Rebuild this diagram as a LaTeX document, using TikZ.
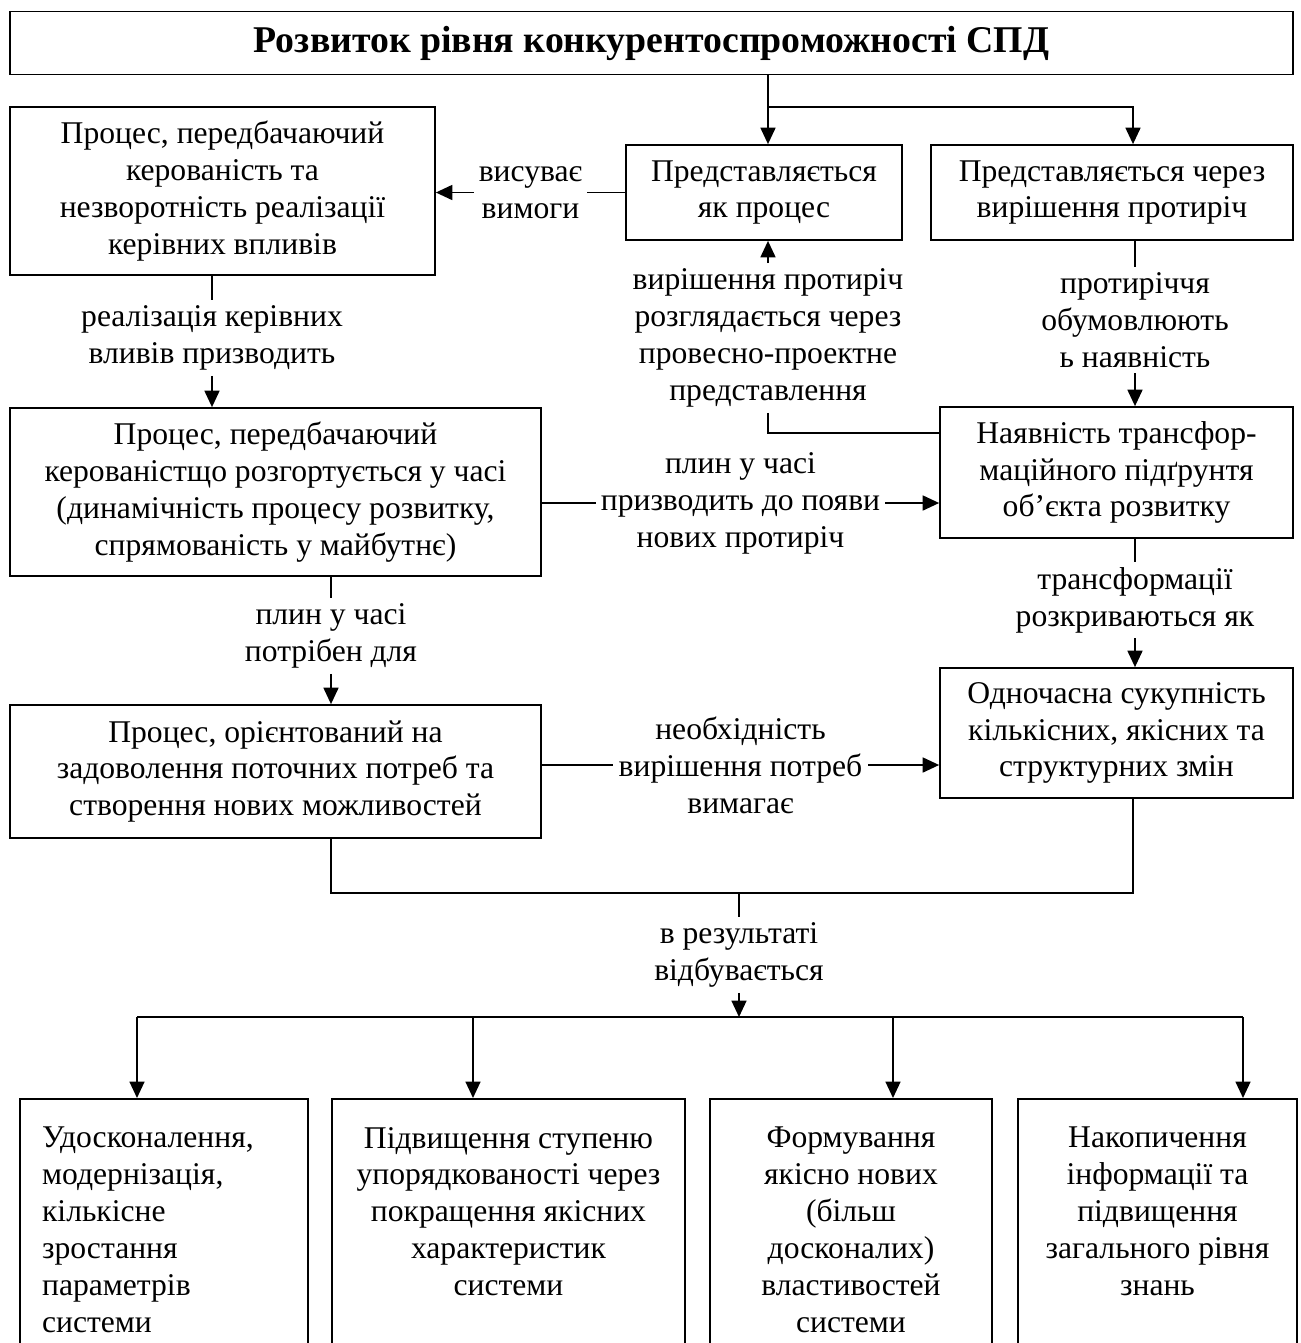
\documentclass[tikz,border=0pt]{standalone}
\usepackage{fontspec}
\setmainfont{Liberation Serif}
\usepackage{tikz}
\usetikzlibrary{arrows.meta,positioning,calc}
\tikzset{
  box/.style={draw, line width=1pt, align=center, inner sep=2pt,
              font=\fontsize{18}{21}\selectfont},
  lbl/.style={fill=white, align=center, inner sep=3pt,
              font=\fontsize{18}{21}\selectfont},
  txt/.style={align=center, inner sep=1pt, font=\fontsize{18}{21}\selectfont},
  flow/.style={-{Triangle[length=3.3mm, width=3mm]}, line width=1pt},
  link/.style={line width=1pt},
}
\begin{document}
\begin{tikzpicture}[x=0.02cm, y=-0.02cm]
  \useasboundingbox (0,0) rectangle (1301,1343);
  \clip (0,0) rectangle (1301,1343);
  % top row
  \node[box, minimum width=25.66cm, minimum height=1.26cm,
        font=\fontsize{21.5}{25}\selectfont\bfseries] (title) at (651.5,43)
        {Розвиток рівня конкурентоспроможності СПД};
  \node[box, minimum width=8.5cm, minimum height=3.36cm] (A) at (222.5,191)
        {Процес, передбачаючий\\керованість та\\незворотність реалізації\\керівних впливів};
  \node[box, minimum width=5.52cm, minimum height=1.9cm] (B) at (764,192.5)
        {Представляється\\як процес};
  \node[box, minimum width=7.24cm, minimum height=1.9cm] (C) at (1112,192.5)
        {Представляється через\\вирішення протиріч};
  % middle rows
  \node[box, minimum width=10.62cm, minimum height=3.36cm] (E) at (275.5,492)
        {Процес, передбачаючий\\керованістщо розгортується у часі\\(динамічність процесу розвитку,\\спрямованість у майбутнє)};
  \node[box, minimum width=7.06cm, minimum height=2.62cm] (D) at (1116.5,472.5)
        {Наявність трансфор-\\маційного підґрунтя\\об’єкта розвитку};
  \node[box, minimum width=10.62cm, minimum height=2.66cm] (G) at (275.5,771.5)
        {Процес, орієнтований на\\задоволення поточних потреб та\\створення нових можливостей};
  \node[box, minimum width=7.06cm, minimum height=2.6cm] (F) at (1116.5,733)
        {Одночасна сукупність\\кількісних, якісних та\\структурних змін};
  % bottom row
  \node[draw, line width=1pt, anchor=north, minimum width=5.76cm, minimum height=6cm] (b1) at (164,1098) {};
  \node[draw, line width=1pt, anchor=north, minimum width=7.06cm, minimum height=6cm] (b2) at (508.5,1098) {};
  \node[draw, line width=1pt, anchor=north, minimum width=5.64cm, minimum height=6cm] (b3) at (851,1098) {};
  \node[draw, line width=1pt, anchor=north, minimum width=5.58cm, minimum height=6cm] (b4) at (1157.5,1098) {};
  \node[txt, anchor=north west, align=left] (b1t) at (40,1125)
        {Удосконалення,\\модернізація,\\кількісне\\зростання\\параметрів\\системи};
  \node[txt, anchor=north] (b2t) at (508.5,1125)
        {Підвищення ступеню\\упорядкованості через\\покращення якісних\\характеристик\\системи};
  \node[txt, anchor=north] (b3t) at (851,1125)
        {Формування\\якісно нових\\(більш\\досконалих)\\властивостей\\системи};
  \node[txt, anchor=north] (b4t) at (1157.5,1125)
        {Накопичення\\інформації та\\підвищення\\загального рівня\\знань};
  % labels
  \node[lbl] (lp) at (768,338) {вирішення протиріч\\розглядається через\\провесно-проектне\\представлення};
  \node[lbl] (lr) at (212,338) {реалізація керівних\\вливів призводить};
  \node[lbl] (lc) at (1135,320) {протиріччя\\обумовлюють\\ь наявність};
  \node[lbl] (lf) at (1135,600) {трансформації\\розкриваються як};
  \node[lbl] (lg) at (331,636) {плин у часі\\потрібен для};
  \node[lbl] (res) at (739,955) {в результаті\\відбувається};
  \coordinate (split) at (768,107);
  \coordinate (cturn) at (1133,107);
  \coordinate (mergeL) at (331,893);
  \coordinate (mergeR) at (1133,893);
  \coordinate (t1) at (137,1017);
  \coordinate (t2) at (473,1017);
  \coordinate (t3) at (893,1017);
  \coordinate (t4) at (1243,1017);
  % connectors
  \draw[flow] (split |- title.south) -- (split |- B.north);
  \draw[flow] (split) -- (cturn) -- (cturn |- C.north);
  \draw[flow] (B.west) -- node[lbl] (va) {висуває\\вимоги} (A.east |- B.west);
  \draw[flow] (lp.north) -- (lp.north |- B.south);
  \draw[link] (lp.south) |- (D.west |- 0,433);
  \draw[link] (A.south -| lr) -- (lr.north);
  \draw[flow] (lr.south) -- (lr.south |- E.north);
  \draw[link] (C.south -| lc) -- (lc.north);
  \draw[flow] (lc.south) -- (lc.south |- D.north);
  \draw[flow] (E.east |- 0,503) -- node[lbl] (lt) {плин у часі\\призводить до появи\\нових протиріч} (D.west |- 0,503);
  \draw[link] (D.south -| lf) -- (lf.north);
  \draw[flow] (lf.south) -- (lf.south |- F.north);
  \draw[link] (E.south -| lg) -- (lg.north);
  \draw[flow] (lg.south) -- (lg.south |- G.north);
  \draw[flow] (G.east |- 0,765) -- node[lbl] (ln) {необхідність\\вирішення потреб\\вимагає} (F.west |- 0,765);
  \draw[link] (G.south -| mergeL) -- (mergeL) -- (mergeR) -- (F.south -| mergeR);
  \draw[link] (res.north |- mergeL) -- (res.north);
  \draw[flow] (res.south) -- (res.south |- t1);
  \draw[link] (t1) -- (t4);
  \draw[flow] (t1) -- (t1 |- b1.north);
  \draw[flow] (t2) -- (t2 |- b2.north);
  \draw[flow] (t3) -- (t3 |- b3.north);
  \draw[flow] (t4) -- (t4 |- b4.north);
\end{tikzpicture}
\end{document}
